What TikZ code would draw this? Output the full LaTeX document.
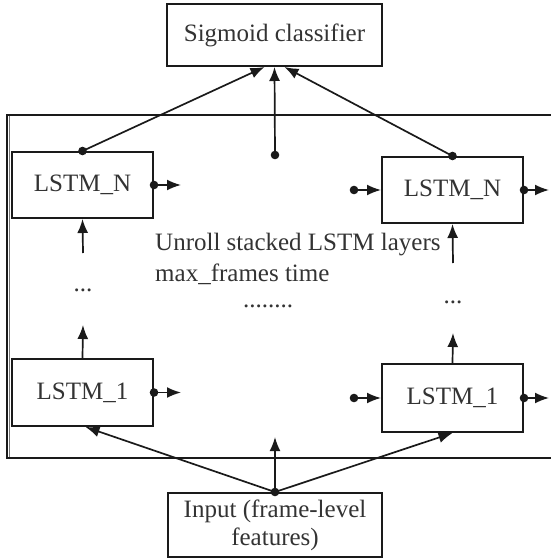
\documentclass[tikz,border=0pt]{standalone}
\usepackage{fontspec}
\setmainfont{Liberation Serif}
\usetikzlibrary{arrows.meta}
\definecolor{txt}{HTML}{333333}
\definecolor{ln}{HTML}{1A1A1A}
\tikzset{
  box/.style={draw=ln, line width=2pt, rectangle, inner sep=0pt, align=center, text=txt, font=\fontsize{25}{28}\selectfont},
  conn/.style={draw=ln, line width=1.7pt, -{Latex[length=14pt,width=11pt]}},
  dotc/.style={fill=ln, draw=none},
  lbl/.style={text=txt, font=\fontsize{25}{29}\selectfont, inner sep=0pt}
}
\begin{document}
\begin{tikzpicture}[x=1pt,y=-1pt]
\useasboundingbox (0,0) rectangle (550,559);
% frame
\draw[draw=ln, line width=1.8pt] (556,115) -- (7,115) -- (7,458) -- (556,458);
\draw[draw=ln!60, line width=1pt] (9.5,116) -- (9.5,457);
% nodes
\node[box, minimum width=215pt, minimum height=62pt] (sig) at (274.5,35) {Sigmoid classifier};
\node[box, minimum width=214pt, minimum height=64pt] (inp) at (275,525) {Input (frame-level\\features)};
\node[box, minimum width=141pt, minimum height=66pt] (ln) at (82.5,185) {LSTM\_N};
\node[box, minimum width=141pt, minimum height=66pt] (rn) at (452.5,190) {LSTM\_N};
\node[box, minimum width=141pt, minimum height=67pt] (l1) at (82.5,392.5) {LSTM\_1};
\node[box, minimum width=141pt, minimum height=68pt] (r1) at (452.5,398) {LSTM\_1};
% labels
\node[lbl, anchor=west] (t1) at (155,245) {Unroll stacked LSTM layers};
\node[lbl, anchor=west] (t2) at (155,274) {max\_frames time};
\node[lbl] (t3) at (268,306) {........};
\node[lbl] (dl) at (83,290) {...};
\node[lbl] (dr) at (453,302) {...};
% coordinates
\coordinate (cc) at (275,155);
\coordinate (lnout) at (181,185);
\coordinate (rnin) at (354,190);
\coordinate (rnout) at (549,190);
\coordinate (l1out) at (181,392.5);
\coordinate (r1in) at (354,398);
\coordinate (r1out) at (549,398);
\coordinate (lvu) at (83,253);
\coordinate (lvd) at (83,325);
\coordinate (rvu) at (453,263);
\coordinate (rvd) at (453,333);
\coordinate (ctop) at (275,437);
% top connections
\draw[conn] (ln.north) -- ([xshift=-10pt]sig.south);
\draw[conn] (cc) -- (sig.south);
\draw[conn] (rn.north) -- ([xshift=10pt]sig.south);
\fill[dotc] (ln.north) circle (4.3pt);
\fill[dotc] (cc) circle (4.3pt);
\fill[dotc] (rn.north) circle (4.3pt);
% horizontal
\draw[conn] (ln.east) -- (lnout);
\draw[conn] (l1.east) -- (l1out);
\draw[conn] (rnin) -- (rn.west);
\draw[conn] (rn.east) -- (rnout);
\draw[conn] (r1in) -- (r1.west);
\draw[conn] (r1.east) -- (r1out);
\foreach \p in {ln.east,l1.east,rn.east,r1.east,rnin,r1in}
  \fill[dotc] (\p) circle (4.3pt);
% vertical
\draw[conn] (lvu) -- (ln.south);
\draw[conn] (l1.north) -- (lvd);
\draw[conn] (rvu) -- (rn.south);
\draw[conn] (r1.north) -- (rvd);
% bottom
\draw[conn] (inp.north) -- ([xshift=3pt]l1.south);
\draw[conn] (inp.north) -- (ctop);
\draw[conn] (inp.north) -- (r1.south);
\fill[dotc] (inp.north) circle (4.3pt);
\end{tikzpicture}
\end{document}
